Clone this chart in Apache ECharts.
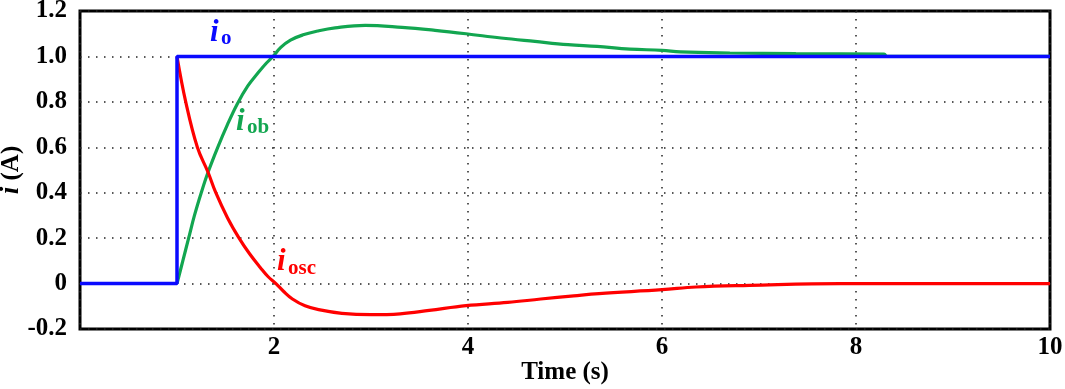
<!DOCTYPE html>
<html>
<head>
<meta charset="utf-8">
<script src="https://cdn.jsdelivr.net/npm/echarts@6/dist/echarts.min.js"></script>
<style>
  html, body { margin: 0; padding: 0; background: #fff; }
  #chart { width: 1065px; height: 389px; }
</style>
</head>
<body>
<div id="chart"></div>
<script>
// values
const ioTime = [0, 1, 1, 10];
const ioVal = [0, 0, 1, 1];

const iobTime = [1.0, 1.06, 1.12, 1.18, 1.25, 1.32, 1.42, 1.52, 1.62, 1.73, 1.84, 1.92, 1.99, 2.07, 2.17, 2.30, 2.45, 2.63, 2.94, 3.32, 3.66, 3.98, 4.34, 4.69, 5.03, 5.33, 5.67, 6.0, 6.19, 6.7, 7.38, 8.29, 8.32, 10];
const iobVal = [0, 0.10, 0.20, 0.30, 0.40, 0.49, 0.60, 0.70, 0.79, 0.87, 0.93, 0.97, 1.0, 1.04, 1.072, 1.095, 1.112, 1.126, 1.137, 1.128, 1.115, 1.100, 1.081, 1.066, 1.052, 1.044, 1.032, 1.027, 1.020, 1.015, 1.012, 1.010, 1.0, 1.0];

const ioscTime = [1.0, 1.09, 1.21, 1.32, 1.40, 1.52, 1.64, 1.75, 1.86, 1.94, 2.02, 2.10, 2.19, 2.32, 2.46, 2.70, 3.0, 3.30, 3.60, 3.98, 4.41, 4.75, 5.09, 5.35, 6.0, 6.35, 6.9, 7.84, 10];
const ioscVal = [1.0, 0.80, 0.60, 0.49, 0.40, 0.29, 0.20, 0.13, 0.07, 0.03, 0.0, -0.035, -0.068, -0.098, -0.115, -0.131, -0.137, -0.133, -0.118, -0.097, -0.083, -0.068, -0.054, -0.044, -0.027, -0.015, -0.008, 0.0, 0.0];

const xTicks = [0, 2, 4, 6, 8, 10];

const pairs = (t, v) => t.map((x, i) => [x, v[i]]);
const FONT = "'Liberation Serif', 'Times New Roman', serif";

const chart = echarts.init(document.getElementById("chart"));

const dotted = {
  show: true,
  lineStyle: { color: "#222", width: 1.5, type: [1.5, 6.5] },
};

const label = (left, y, text, color, size, italic) => ({
  type: "text",
  left: left,
  top: y,
  z: 100,
  style: {
    text: text,
    fill: color,
    font: (italic ? "italic " : "") + "bold " + size + "px " + FONT,
  },
});

chart.setOption({
  animation: false,
  grid: {
    left: 80,
    right: 15,
    top: 11,
    bottom: 60,
    containLabel: false,
    outerBoundsMode: "none",
    show: true,
    borderWidth: 3,
    borderColor: "#000",
  },
  xAxis: {
    type: "value",
    min: xTicks[0],
    max: xTicks[xTicks.length - 1],
    interval: 2,
    axisLine: { show: false },
    axisTick: { show: false },
    splitLine: dotted,
    axisLabel: {
      margin: 6,
      color: "#000",
      fontFamily: FONT,
      fontWeight: "bold",
      fontSize: 25,
      formatter: (v) => (v === 0 ? "" : String(v)),
    },
    name: "Time (s)",
    nameLocation: "middle",
    nameGap: 31,
    nameMoveOverlap: false,
    nameTextStyle: {
      color: "#000",
      fontFamily: FONT,
      fontWeight: "bold",
      fontSize: 25,
    },
  },
  yAxis: {
    type: "value",
    min: -0.2,
    max: 1.2,
    interval: 0.2,
    axisLine: { show: false },
    axisTick: { show: false },
    splitLine: dotted,
    axisLabel: {
      margin: 13,
      color: "#000",
      fontFamily: FONT,
      fontWeight: "bold",
      fontSize: 25,
      formatter: (v) => {
        const r = Math.round(v * 10) / 10;
        return r === 0 ? "0" : r.toFixed(1);
      },
    },
    name: "{it|i} (A)",
    nameLocation: "middle",
    nameRotate: 90,
    nameGap: 55,
    nameMoveOverlap: false,
    nameTextStyle: {
      color: "#000",
      fontFamily: FONT,
      fontWeight: "bold",
      fontSize: 25,
      rich: {
        it: { fontStyle: "italic", fontWeight: "bold", fontSize: 27, fontFamily: FONT, color: "#000" },
      },
    },
  },
  series: [
    {
      name: "iob",
      type: "line",
      data: pairs(iobTime, iobVal),
      showSymbol: false,
      smooth: 0.4,
      lineStyle: { color: "#12a650", width: 3.2 },
      z: 2,
    },
    {
      name: "iosc",
      type: "line",
      data: pairs(ioscTime, ioscVal),
      showSymbol: false,
      smooth: 0.4,
      lineStyle: { color: "#ff0000", width: 3.2 },
      z: 3,
    },
    {
      name: "io",
      type: "line",
      data: pairs(ioTime, ioVal),
      showSymbol: false,
      lineStyle: { color: "#0a0aff", width: 3.5 },
      z: 4,
    },
  ],
  graphic: [
    label(210, 17, "i", "#0a0aff", 31, true),
    label(221, 28, "o", "#0a0aff", 21, false),
    label(236, 106, "i", "#12a650", 31, true),
    label(247, 117, "ob", "#12a650", 21, false),
    label(277, 246, "i", "#ff0000", 31, true),
    label(288, 258, "osc", "#ff0000", 21, false),
  ],
});
</script>
</body>
</html>
